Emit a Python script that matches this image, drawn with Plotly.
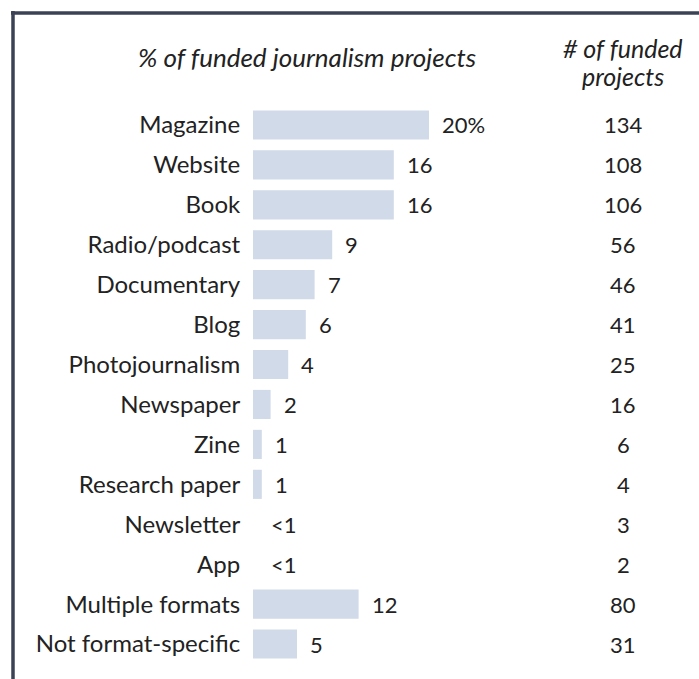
import plotly.graph_objects as go

# Funded journalism projects by format
formats = ["Magazine", "Website", "Book", "Radio/podcast", "Documentary", "Blog",
           "Photojournalism", "Newspaper", "Zine", "Research paper", "Newsletter",
           "App", "Multiple formats", "Not format-specific"]
share_pct = [20, 16, 16, 9, 7, 6, 4, 2, 1, 1, 0, 0, 12, 5]
share_labels = ["20%", "16", "16", "9", "7", "6", "4", "2", "1", "1", "<1", "<1", "12", "5"]
project_counts = [134, 108, 106, 56, 46, 41, 25, 16, 6, 4, 3, 2, 80, 31]

W, H = 699, 679
PL, PR, PT, PB = 253, 699, 105, 664  # plot area in pixels
PX_PER_PCT = 8.8

FONT = "Lato"
TXT = "#222222"
BAR = "#d1dae8"
FRAME = "#3b4256"


def px_x(px):
    return (px - PL) / (PR - PL)


def px_y(py):
    return (PB - py) / (PB - PT)


fig = go.Figure(go.Bar(
    x=share_pct, y=formats, orientation="h",
    marker=dict(color=BAR, line=dict(width=0)),
    width=0.73, hoverinfo="skip",
))

annotations = []
for f, v, lab, n in zip(formats, share_pct, share_labels, project_counts):
    annotations.append(dict(
        x=v, y=f, xref="x", yref="y", text=lab, showarrow=False,
        xanchor="left", yanchor="middle", xshift=11 if v > 0 else 16,
        font=dict(family=FONT, size=22, color=TXT),
    ))
    annotations.append(dict(
        x=px_x(623), y=f, xref="paper", yref="y", text=str(n), showarrow=False,
        xanchor="center", yanchor="middle",
        font=dict(family=FONT, size=22, color=TXT),
    ))

# column headers
for text, cx, cy, size in [("% of funded journalism projects", 307, 57, 26),
                           ("# of funded", 623, 48, 25),
                           ("projects", 623, 76, 25)]:
    annotations.append(dict(
        x=px_x(cx), y=px_y(cy), xref="paper", yref="paper",
        text=f"<i>{text}</i>", showarrow=False,
        xanchor="center", yanchor="middle",
        font=dict(family=FONT, size=size, color=TXT),
    ))

shapes = [
    # frame: top and left rules
    dict(type="line", xref="paper", yref="paper",
         x0=px_x(11), x1=px_x(W), y0=px_y(13), y1=px_y(13),
         line=dict(color=FRAME, width=3.5)),
    dict(type="line", xref="paper", yref="paper",
         x0=px_x(13), x1=px_x(13), y0=px_y(11), y1=px_y(H),
         line=dict(color=FRAME, width=3.5)),
]

fig.update_layout(
    width=W, height=H,
    margin=dict(l=PL, r=W - PR, t=PT, b=H - PB, pad=0),
    paper_bgcolor="white", plot_bgcolor="white",
    showlegend=False,
    xaxis=dict(range=[0, (PR - PL) / PX_PER_PCT], visible=False, fixedrange=True),
    yaxis=dict(autorange="reversed", showgrid=False, zeroline=False, showline=False,
               ticks="outside", ticklen=7, tickcolor="rgba(0,0,0,0)",
               tickfont=dict(family=FONT, size=24, color=TXT), fixedrange=True),
    annotations=annotations,
    shapes=shapes,
)

fig.write_html("out.html")
